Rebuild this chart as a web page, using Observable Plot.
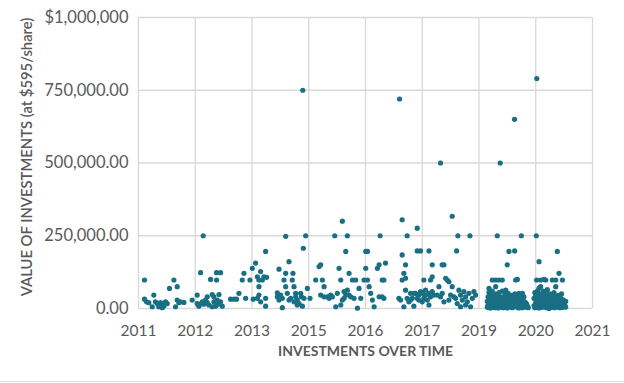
<!DOCTYPE html>
<html>
<head>
<meta charset="utf-8">
<script src="https://cdn.jsdelivr.net/npm/d3@7"></script>
<script src="https://cdn.jsdelivr.net/npm/@observablehq/plot@0.6"></script>
<style>
  html, body { margin: 0; padding: 0; background: #fff; }
  #chart { width: 624px; height: 381px; border-bottom: 1px solid #d9d9d9; overflow: hidden; }
  svg { font-family: Lato, "Open Sans", sans-serif; }
</style>
</head>
<body>
<div id="chart"></div>
<script>
// x = days after 2011-01-01, y = value of investment in $
const period2011 = [[53,98000],[53,32000],[71,23000],[91,20000],[135,46000],[150,23000],[121,6000],[165,17000],[194,20000],[209,15000],[223,8000],[238,23000],[253,17000],[179,6000],[209,3000],[273,69000],[312,98000],[341,75000],[326,6000],[341,29000],[370,23000],[400,21000],[356,20000]];
const period2012 = [[473,29000],[517,46000],[517,17000],[532,8000],[547,123000],[570,250000],[562,23000],[576,15000],[591,29000],[606,40000],[620,12000],[635,100000],[650,48000],[664,23000],[679,8000],[688,123000],[688,98000],[709,48000],[723,123000],[723,23000],[738,8000],[664,40000],[694,29000],[700,15000],[606,20000],[650,6000],[553,17000]];
const period2013 = [[811,32000],[841,32000],[864,32000],[885,52000],[914,98000],[929,121000],[944,35000],[982,98000],[1003,138000],[1011,32000],[1032,156000],[1047,109000],[1061,98000],[1061,75000],[1076,127000],[1091,98000],[1105,109000],[1120,196000],[1129,107000],[1061,46000],[1120,35000],[1120,8000],[1047,35000],[1076,23000]];
const period2014 = [[1223,54000],[1238,135000],[1223,40000],[1238,29000],[1267,3000],[1282,98000],[1297,248000],[1297,121000],[1297,75000],[1311,52000],[1326,161000],[1326,29000],[1355,98000],[1361,121000],[1370,75000],[1385,52000],[1385,40000],[1399,29000],[1414,17000],[1429,52000],[1435,40000],[1444,8000],[1452,207000],[1458,35000],[1473,250000],[1488,69000],[1511,35000],[1341,35000],[1370,23000],[1399,12000],[1267,35000],[1252,46000],[1447,750000]];
const period2015 = [[1561,98000],[1591,144000],[1605,150000],[1620,98000],[1635,75000],[1605,46000],[1635,40000],[1664,40000],[1679,35000],[1693,46000],[1708,40000],[1729,250000],[1738,6000],[1752,52000],[1767,138000],[1782,98000],[1782,12000],[1796,300000],[1811,35000],[1826,46000],[1826,196000],[1840,63000],[1840,250000],[1855,121000],[1855,46000],[1870,40000],[1885,98000],[1899,35000],[1914,98000],[1929,1000],[1943,69000],[1958,35000],[1987,98000],[2002,138000],[2002,196000],[2017,196000],[2017,98000],[2032,75000],[2046,52000],[2061,29000],[2076,6000],[2105,138000],[2120,150000],[2129,250000],[2120,40000],[1811,58000],[1796,29000],[2147,98000],[2162,98000],[2176,156000],[2147,40000],[2162,35000]];
const period2016 = [[2294,35000],[2309,29000],[2323,305000],[2323,184000],[2323,98000],[2338,121000],[2338,6000],[2353,150000],[2353,104000],[2367,250000],[2353,63000],[2367,35000],[2382,23000],[2397,29000],[2412,35000],[2426,8000],[2441,52000],[2456,276000],[2456,198000],[2485,198000],[2470,46000],[2485,58000],[2500,52000],[2514,98000],[2529,46000],[2514,35000],[2544,29000],[2559,198000],[2559,52000],[2573,98000],[2573,40000],[2588,150000],[2588,109000],[2588,58000],[2603,46000],[2559,12000],[2529,63000],[2500,23000],[2470,29000],[2426,52000],[2456,35000],[2397,52000],[2300,720000]];
const period2017 = [[2647,75000],[2661,40000],[2676,150000],[2691,150000],[2691,23000],[2706,104000],[2720,98000],[2735,92000],[2750,46000],[2764,317000],[2764,75000],[2779,40000],[2794,35000],[2803,198000],[2814,250000],[2823,63000],[2838,46000],[2838,6000],[2853,29000],[2867,58000],[2882,40000],[2897,23000],[2911,52000],[2920,250000],[2926,6000],[2941,35000],[2955,58000],[2970,46000],[2632,46000],[2676,52000],[2735,29000],[2808,17000],[2882,12000],[2661,500000]];
const period2019 = [[3161,250000],[3249,150000],[3264,196000],[3314,198000],[3088,69000],[3117,98000],[3147,98000],[3176,98000],[3205,98000],[3147,75000],[3235,63000],[3323,98000],[3338,100000],[3352,52000],[3382,52000],[3396,40000],[3373,250000],[3187,500000],[3313,650000],
  [3073,5000],[3073,25000],[3080,12000],[3080,40000],[3088,3000],[3088,30000],[3088,55000],[3095,8000],[3095,20000],[3102,15000],[3102,45000],[3102,2000],[3110,10000],[3110,35000],[3117,25000],[3117,5000],[3117,60000],[3125,18000],[3125,40000],[3132,8000],[3132,30000],[3140,12000],[3140,50000],[3140,3000],[3147,22000],[3147,38000],[3155,6000],[3155,28000],[3161,15000],[3161,45000],[3170,10000],[3170,35000],[3170,2000],[3176,20000],[3176,55000],[3184,5000],[3184,30000],[3191,12000],[3191,40000],[3198,25000],[3198,8000],[3205,18000],[3205,60000],[3213,3000],[3213,35000],[3220,10000],[3220,28000],[3228,15000],[3228,48000],[3235,5000],[3235,22000],[3242,30000],[3242,12000],[3249,8000],[3249,40000],[3249,2000],[3257,18000],[3257,52000],[3264,6000],[3264,25000],[3272,12000],[3272,35000],[3279,20000],[3279,5000],[3286,15000],[3286,45000],[3294,3000],[3294,28000],[3301,10000],[3301,38000],[3308,22000],[3308,6000],[3316,15000],[3316,50000],[3323,8000],[3323,30000],[3330,12000],[3330,42000],[3338,4000],[3338,25000],[3345,18000],[3345,35000],[3352,10000],[3352,2000],[3360,28000],[3360,15000],[3367,6000],[3367,40000],[3375,20000],[3375,10000],[3382,3000],[3382,30000],[3390,15000],[3396,8000],[3396,25000],[3404,12000],[3411,5000],[3411,20000],[3420,15000],[3426,8000],[3434,3000]];
const period2020 = [[3505,250000],[3529,161000],[3508,98000],[3543,98000],[3573,100000],[3588,98000],[3646,98000],[3676,98000],[3690,196000],[3705,121000],[3735,98000],[3676,75000],[3543,75000],[3509,790000],
  [3485,10000],[3485,35000],[3492,3000],[3492,55000],[3500,20000],[3500,45000],[3500,8000],[3508,15000],[3508,30000],[3515,5000],[3515,60000],[3515,25000],[3522,12000],[3522,40000],[3529,2000],[3529,28000],[3529,70000],[3537,18000],[3537,50000],[3544,8000],[3544,35000],[3551,22000],[3551,4000],[3558,15000],[3558,45000],[3566,10000],[3566,30000],[3566,60000],[3573,5000],[3573,25000],[3580,18000],[3580,40000],[3588,8000],[3588,52000],[3595,3000],[3595,30000],[3602,15000],[3602,45000],[3602,65000],[3610,10000],[3610,22000],[3617,0],[3617,35000],[3624,12000],[3624,50000],[3632,6000],[3632,28000],[3639,20000],[3639,42000],[3646,4000],[3646,15000],[3654,10000],[3654,35000],[3661,18000],[3661,55000],[3668,3000],[3668,25000],[3676,12000],[3676,40000],[3683,8000],[3683,20000],[3690,15000],[3690,30000],[3698,5000],[3698,45000],[3705,10000],[3705,25000],[3712,20000],[3712,3000],[3720,8000],[3720,35000],[3727,14000],[3727,50000],[3735,4000],[3735,22000],[3742,10000],[3742,30000],[3749,18000],[3749,6000],[3756,12000],[3764,25000],[3764,5000]];

const xTickDays = [0, 500, 1000, 1500, 2000, 2500, 3000, 3500, 4000];
const xTickLabels = ["2011", "2012", "2013", "2015", "2016", "2017", "2019", "2020", "2021"];
const yTicks = [0, 250000, 500000, 750000, 1000000];
const yTickLabels = ["0.00", "250,000.00", "500,000.00", "750,000.00", "$1,000,000"];
const xTitle = "INVESTMENTS OVER TIME";
const yTitle = "VALUE OF INVESTMENTS (at $595/share)";

const origin = Date.UTC(2011, 0, 1);
const toDate = d => new Date(origin + d * 864e5);
const data = [period2011, period2012, period2013, period2014, period2015, period2016, period2017, period2019, period2020]
  .flat().map(([d, v]) => ({date: toDate(d), value: v}));
const xTicks = xTickDays.map(toDate);
const xLabelOf = new Map(xTicks.map((t, i) => [+t, xTickLabels[i]]));
const yLabelOf = new Map(yTicks.map((t, i) => [t, yTickLabels[i]]));

const grid = "#d9d9d9";
const textColor = "#595959";

const chart = Plot.plot({
  width: 624,
  height: 381,
  marginLeft: 138,
  marginRight: 32,
  marginTop: 17,
  marginBottom: 73,
  style: {fontFamily: "Lato, 'Open Sans', sans-serif", background: "#fff"},
  x: {type: "utc", domain: [toDate(0), toDate(4000)]},
  y: {domain: [0, 1000000]},
  marks: [
    Plot.gridY(yTicks, {stroke: grid, strokeOpacity: 1, strokeWidth: 1.3}),
    Plot.gridX(xTicks, {stroke: grid, strokeOpacity: 1, strokeWidth: 1.3}),
    Plot.axisY(yTicks, {tickSize: 0, tickPadding: 10, tickFormat: d => yLabelOf.get(d), fontSize: 16.5, fill: textColor, label: null}),
    Plot.axisX(xTicks, {tickSize: 0, tickPadding: 16, tickFormat: d => xLabelOf.get(+d), fontSize: 15.5, fill: textColor, label: null}),
    Plot.dot(data, {x: "date", y: "value", r: 2.6, fill: "#196f84", stroke: "none"}),
    Plot.text([yTitle], {frameAnchor: "left", textAnchor: "middle", rotate: -90, dx: -111, dy: -6, fontSize: 14.8, fontWeight: 600, fill: textColor}),
    Plot.text([xTitle], {frameAnchor: "bottom", dy: 47, fontSize: 14, fontWeight: "bold", fill: textColor})
  ]
});
document.getElementById("chart").appendChild(chart);
</script>
</body>
</html>
